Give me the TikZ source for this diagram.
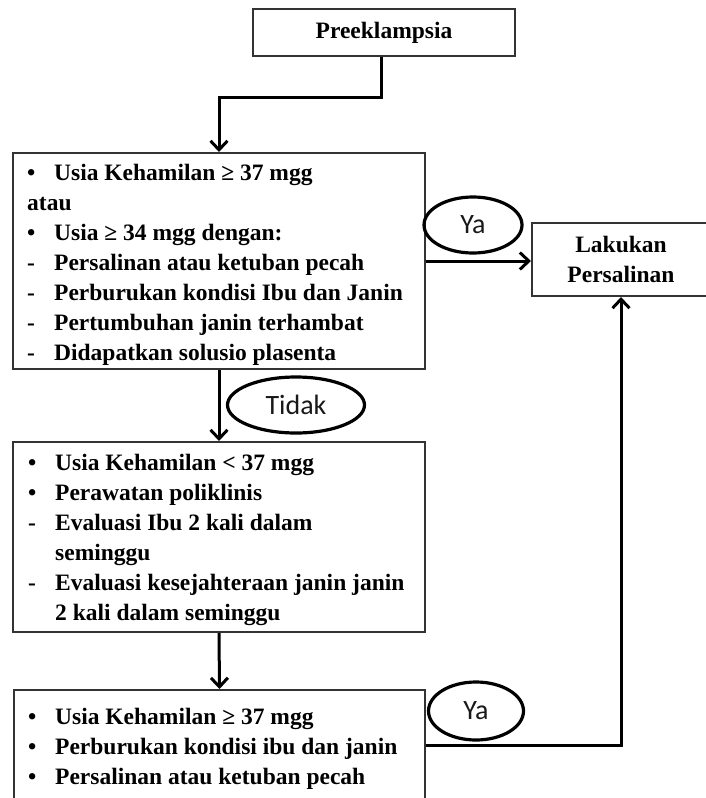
\documentclass[tikz,border=0pt]{standalone}
\usepackage{fontspec}
\setmainfont{Liberation Serif}
\newfontfamily\calibri{Carlito}
\usetikzlibrary{shapes.geometric,arrows.meta}

\begin{document}
\begin{tikzpicture}[x=1pt, y=-1pt,
    box/.style={draw=black!80, line width=2pt, rectangle, inner sep=0pt},
    isi/.style={anchor=north west, inner sep=0pt, font=\bfseries\fontsize{23.5}{30}\selectfont},
    pilih/.style={draw=black, line width=3.2pt, ellipse, inner sep=0pt, font=\calibri\fontsize{28}{30}\selectfont, text=black!90},
    alur/.style={draw=black, line width=3pt, -{Straight Barb[length=9pt,width=17pt]}}]
    \useasboundingbox (0,0) rectangle (706,798);
    \clip (0,0) rectangle (706,798);

    \node[box, minimum width=262pt, minimum height=47pt, font=\bfseries\fontsize{23.5}{30}\selectfont] (pre) at (384,32.5) {Preeklampsia};
    \node[box, minimum width=412pt, minimum height=216pt] (k1) at (219,261) {};
    \node[box, minimum width=412pt, minimum height=190pt] (k2) at (219,537) {};
    \node[box, minimum width=411pt, minimum height=110pt] (k3) at (219.5,745) {};
    \node[box, minimum width=178pt, minimum height=73pt, align=center, font=\bfseries\fontsize{23.5}{30}\selectfont] (lp) at (621,259.5) {Lakukan\\Persalinan};

    \node[isi] (t1) at ([xshift=15pt,yshift=-7pt]k1.north west) {%
      \begin{tabular}{@{}p{27pt}@{}l@{}}
        • & Usia Kehamilan ≥ 37 mgg\\
        \multicolumn{2}{@{}l@{}}{atau}\\
        • & Usia ≥ 34 mgg dengan:\\
        - & Persalinan atau ketuban pecah\\
        - & Perburukan kondisi Ibu dan Janin\\
        - & Pertumbuhan janin terhambat\\
        - & Didapatkan solusio plasenta
      \end{tabular}};
    \node[isi] (t2) at ([xshift=16pt,yshift=-8pt]k2.north west) {%
      \begin{tabular}{@{}p{27pt}@{}l@{}}
        • & Usia Kehamilan < 37 mgg\\
        • & Perawatan poliklinis\\
        - & Evaluasi Ibu 2 kali dalam\\
          & seminggu\\
        - & Evaluasi kesejahteraan janin janin\\
          & 2 kali dalam seminggu
      \end{tabular}};
    \node[isi] (t3) at ([xshift=15pt,yshift=-14pt]k3.north west) {%
      \begin{tabular}{@{}p{27pt}@{}l@{}}
        • & Usia Kehamilan ≥ 37 mgg\\
        • & Perburukan kondisi ibu dan janin\\
        • & Persalinan atau ketuban pecah
      \end{tabular}};

    \draw[alur] ([xshift=-3pt]pre.south) -- ++(0,40) -| (k1.north);
    \draw[alur] (k1.east) -- (k1.east -| lp.west);
    \draw[alur] (k1.south) -- (k2.north);
    \draw[alur] (k2.south) -- (k3.north);
    \draw[alur] (k3.east) -| (lp.south);

    \node[pilih, minimum width=98pt, minimum height=56pt] (ya1) at (473,225) {Ya};
    \node[pilih, minimum width=137pt, minimum height=56pt] (tdk) at (296,405) {Tidak};
    \node[pilih, minimum width=95pt, minimum height=58pt] (ya2) at (476,711) {Ya};
\end{tikzpicture}
\end{document}
